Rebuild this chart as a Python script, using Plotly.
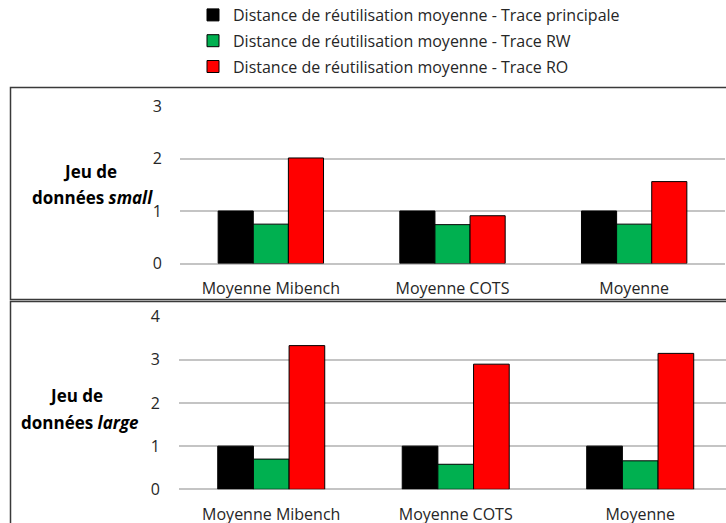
import plotly.graph_objects as go

categories = ["Moyenne Mibench", "Moyenne COTS", "Moyenne"]
series_names = [
    "Distance de réutilisation moyenne - Trace principale",
    "Distance de réutilisation moyenne - Trace RW",
    "Distance de réutilisation moyenne - Trace RO",
]
small_principale = [1.0, 1.0, 1.0]
small_rw = [0.75, 0.74, 0.75]
small_ro = [2.01, 0.91, 1.56]
large_principale = [1.0, 1.0, 1.0]
large_rw = [0.70, 0.58, 0.66]
large_ro = [3.33, 2.90, 3.15]
colors = ["#000000", "#00B050", "#FF0000"]

W, H = 726, 523
FONT = "Open Sans, Carlito, Calibri, sans-serif"

def px_x(p):
    return p / W

def px_y(p):
    return 1 - p / H

fig = go.Figure()
for name, vals, c in zip(series_names, [small_principale, small_rw, small_ro], colors):
    fig.add_trace(go.Bar(x=categories, y=vals, name=name, marker=dict(color=c, line=dict(color="#000000", width=1)),
                         xaxis="x", yaxis="y", legendgroup=name))
for name, vals, c in zip(series_names, [large_principale, large_rw, large_ro], colors):
    fig.add_trace(go.Bar(x=categories, y=vals, name=name, marker=dict(color=c, line=dict(color="#000000", width=1)),
                         xaxis="x2", yaxis="y2", showlegend=False, legendgroup=name))

axis_font = dict(family=FONT, size=16, color="#262626")
grid = "#C4C4C4"

fig.update_layout(
    width=W, height=H,
    margin=dict(l=0, r=0, t=0, b=0, autoexpand=False),
    paper_bgcolor="white", plot_bgcolor="white",
    barmode="group", bargap=0.42, bargroupgap=0,
    font=dict(family=FONT, size=15, color="#262626"),
    showlegend=True,
    legend=dict(x=px_x(193), y=px_y(-2), xanchor="left", yanchor="top",
                font=dict(family=FONT, size=16, color="#262626"),
                tracegroupgap=2, bgcolor="rgba(0,0,0,0)"),
    xaxis=dict(domain=[px_x(180), px_x(725)], range=[-0.5, 2.5], anchor="y",
               showgrid=False, showline=False, zeroline=False, fixedrange=True,
               ticks="outside", ticklen=10, tickcolor="rgba(0,0,0,0)", tickfont=axis_font),
    yaxis=dict(domain=[px_y(263.5), px_y(106)], range=[0, 3], anchor="x", fixedrange=True,
               tickvals=[0, 1, 2, 3], showgrid=True, gridcolor=grid, gridwidth=1.5,
               zeroline=True, zerolinecolor=grid, zerolinewidth=1.5, showline=False,
               ticks="outside", ticklen=14, tickcolor="rgba(0,0,0,0)", tickfont=axis_font),
    xaxis2=dict(domain=[px_x(179), 1], range=[-0.5, 2.465], anchor="y2", fixedrange=True,
                showgrid=False, showline=False, zeroline=False,
                ticks="outside", ticklen=10, tickcolor="rgba(0,0,0,0)", tickfont=axis_font),
    yaxis2=dict(domain=[px_y(489.3), px_y(316.7)], range=[0, 4], anchor="x2", fixedrange=True,
                tickvals=[0, 1, 2, 3, 4], showgrid=True, gridcolor=grid, gridwidth=1.5,
                zeroline=True, zerolinecolor=grid, zerolinewidth=1.5, showline=False,
                ticks="outside", ticklen=15, tickcolor="rgba(0,0,0,0)", tickfont=axis_font),
)

# panel frames
box_line = dict(color="#3A3A3A", width=1.5)
fig.add_shape(type="rect", xref="paper", yref="paper", x0=px_x(10.5), x1=1.01, y0=px_y(299.5), y1=px_y(87.5), line=box_line, layer="below")
fig.add_shape(type="rect", xref="paper", yref="paper", x0=px_x(10.5), x1=1.01, y0=-0.02, y1=px_y(301.5), line=box_line, layer="below")

lab_font = dict(family=FONT, size=17, color="#000000")
fig.add_annotation(xref="paper", yref="paper", x=px_x(90), y=px_y(171.5), text="<b>Jeu de</b>", showarrow=False, font=lab_font, xanchor="center", yanchor="middle")
fig.add_annotation(xref="paper", yref="paper", x=px_x(93), y=px_y(198), text="<b>données <i>small</i></b>", showarrow=False, font=lab_font, xanchor="center", yanchor="middle")
fig.add_annotation(xref="paper", yref="paper", x=px_x(75.5), y=px_y(395.7), text="<b>Jeu de</b>", showarrow=False, font=lab_font, xanchor="center", yanchor="middle")
fig.add_annotation(xref="paper", yref="paper", x=px_x(79.5), y=px_y(422.7), text="<b>données <i>large</i></b>", showarrow=False, font=lab_font, xanchor="center", yanchor="middle")

fig.write_html("out.html", config={"displayModeBar": False},
               post_script="document.body.style.margin='0px';")
